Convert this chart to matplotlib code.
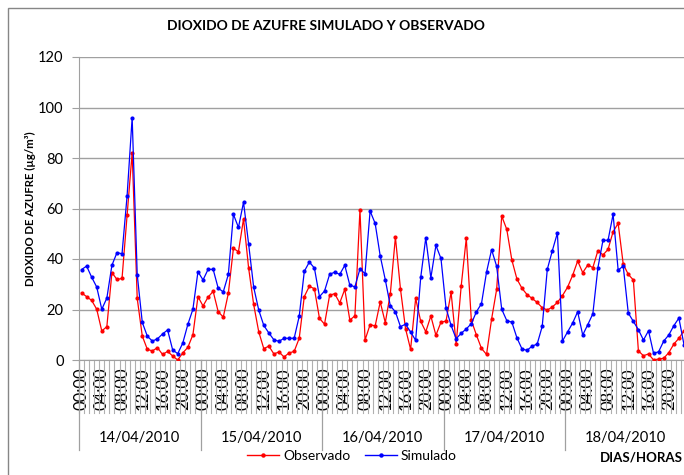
import matplotlib
matplotlib.use("Agg")
import matplotlib.pyplot as plt
from matplotlib.lines import Line2D
from matplotlib.patches import Rectangle

days = ["14/04/2010", "15/04/2010", "16/04/2010", "17/04/2010", "18/04/2010"]
hour_labels = ["00:00", "04:00", "08:00", "12:00", "16:00", "20:00"]

observado = [
    26.6, 25.1, 23.6, 20.1, 11.5, 13.2, 34.6, 31.9, 32.3, 57.3, 82.1, 24.4,
    9.5, 4.2, 3.6, 4.9, 2.2, 3.4, 1.6, 0.0, 2.8, 5.0, 10.0, 25.1,
    21.4, 24.9, 27.2, 19.1, 17.0, 26.4, 44.2, 42.9, 55.9, 36.5, 22.0, 11.2,
    4.5, 5.5, 2.4, 3.2, 1.2, 2.8, 3.4, 8.6, 25.1, 29.2, 28.2, 16.5,
    14.2, 25.6, 26.3, 22.6, 28.0, 15.8, 17.5, 59.6, 7.9, 14.0, 13.5, 23.0,
    14.8, 26.3, 48.7, 28.1, 12.4, 4.2, 24.4, 15.3, 11.2, 17.4, 9.8, 15.0,
    15.4, 26.8, 6.3, 29.4, 48.2, 15.7, 9.9, 4.6, 2.2, 16.2, 28.0, 57.0,
    51.7, 39.6, 32.1, 28.4, 25.9, 24.4, 22.8, 20.7, 19.8, 21.0, 22.8, 25.5,
    28.8, 33.5, 39.2, 34.6, 37.6, 36.6, 43.3, 41.6, 43.8, 50.8, 54.1, 38.0,
    33.9, 31.7, 3.6, 1.7, 2.4, 0.0, 0.4, 0.7, 2.9, 6.3, 8.6, 11.6,
]

simulado = [
    35.8, 37.2, 32.8, 28.9, 20.1, 24.5, 37.5, 42.5, 42.1, 65.0, 96.0, 33.8,
    14.9, 9.4, 7.5, 8.4, 10.3, 11.9, 4.0, 2.5, 6.7, 14.1, 20.1, 35.0,
    31.7, 35.9, 35.9, 28.4, 27.0, 33.9, 57.7, 52.5, 62.5, 46.0, 28.9, 19.8,
    13.7, 10.7, 8.0, 7.4, 8.6, 8.6, 8.6, 17.3, 35.1, 38.8, 36.4, 25.1,
    27.3, 33.9, 34.8, 33.9, 37.5, 29.6, 29.0, 36.1, 34.2, 59.0, 54.1, 41.2,
    31.8, 21.4, 19.1, 13.2, 14.2, 11.1, 7.8, 32.7, 48.4, 32.5, 45.4, 40.2,
    20.6, 13.7, 8.4, 10.6, 12.3, 14.4, 19.1, 22.3, 34.8, 43.7, 37.1, 20.1,
    15.6, 15.0, 8.8, 4.4, 3.8, 5.5, 6.3, 13.3, 35.9, 43.3, 50.3, 7.5,
    11.1, 14.6, 19.1, 9.9, 14.0, 18.3, 36.5, 47.4, 47.4, 57.7, 35.6, 37.2,
    18.6, 15.3, 12.0, 7.9, 11.6, 2.6, 3.3, 7.5, 9.9, 13.6, 16.6, 6.1,
]

plt.rcParams['font.family'] = ['Lato', 'DejaVu Sans']

W, H = 684, 475
fig = plt.figure(figsize=(W / 100, H / 100), dpi=100)

# outer chart border
fig.patches.append(Rectangle((8 / W, -0.1), 1.2, 1 - 8 / H + 0.1, transform=fig.transFigure,
                             fill=False, edgecolor='#868686', linewidth=1.0))

ax_left, ax_right = 79, 686.5
ax_top, ax_bot = 57, 360
ax = fig.add_axes([ax_left / W, 1 - ax_bot / H, (ax_right - ax_left) / W, (ax_bot - ax_top) / H])

n = len(observado)
x = list(range(n))
ax.plot(x, observado, color='#ff0000', lw=0.9, marker='o', ms=2.0, mec='#ff0000', mfc='#ff0000', zorder=3)
ax.plot(x, simulado, color='#0000ff', lw=0.9, marker='o', ms=2.0, mec='#0000ff', mfc='#0000ff', zorder=3)

ax.set_xlim(-0.5, n - 0.5)
ax.set_ylim(0, 120)
ax.set_yticks(range(0, 121, 20))
ax.yaxis.grid(True, color='#a0a0a0', lw=1.0)
ax.set_axisbelow(True)
for s in ['top', 'right']:
    ax.spines[s].set_visible(False)
ax.spines['left'].set_color('#a0a0a0')
ax.spines['bottom'].set_color('#a0a0a0')
ax.tick_params(axis='y', length=5, color='#a0a0a0', labelsize=10.5, pad=6)

positions = list(range(0, n, 4))
ax.set_xticks(positions)
ax.set_xticklabels([hour_labels[(p % 24) // 4] for p in positions], rotation=90, fontsize=12)
ax.tick_params(axis='x', length=0, pad=5)

axw = ax_right - ax_left
axh = ax_bot - ax_top
# minor boundary lines between categories
for i in range(n + 1):
    ax.plot([i - 0.5, i - 0.5], [0, -53 / axh * 120], color='#b0b0b0', lw=0.8,
            clip_on=False, zorder=1)
for d in range(len(days) + 1):
    ax.plot([d * 24 - 0.5, d * 24 - 0.5], [0, -90 / axh * 120], color='#a0a0a0', lw=0.9,
            clip_on=False, zorder=1)
for d, lab in enumerate(days):
    ax.text(d * 24 + 11.5, -78 / axh * 120, lab, ha='center', va='center', fontsize=10.5)

ax.set_ylabel('DIOXIDO DE AZUFRE (µg/m³)', fontsize=8.2, fontweight='bold')
ax.yaxis.set_label_coords((36 - ax_left) / axw, 0.5)
fig.text(326 / W, 1 - 26 / H, 'DIOXIDO DE AZUFRE SIMULADO Y OBSERVADO', ha='center', va='center',
         fontsize=10, fontweight='bold')

handles = [Line2D([], [], color='#ff0000', lw=1.0, marker='o', ms=2.2),
           Line2D([], [], color='#0000ff', lw=1.0, marker='o', ms=2.2)]
fig.legend(handles, ['Observado', 'Simulado'], loc='center', bbox_to_anchor=(352 / W, 1 - 456 / H),
           ncol=2, frameon=False, fontsize=10, handlelength=2.3, handletextpad=0.3, columnspacing=1.0)

fig.text(683 / W, 1 - 457 / H, 'DIAS/HORAS', ha='right', va='center', fontsize=9.5, fontweight='bold')

fig.savefig('out.png', dpi=100)
